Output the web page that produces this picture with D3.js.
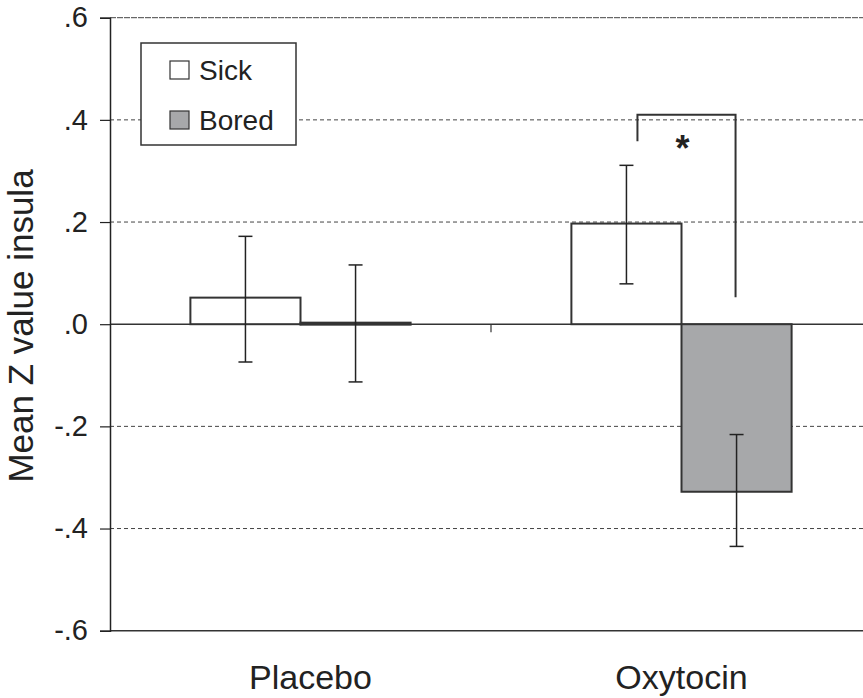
<!DOCTYPE html>
<html>
<head>
<meta charset="utf-8">
<script src="https://cdn.jsdelivr.net/npm/d3@7"></script>
<style>
  body { margin: 0; background: #fff; }
  text { font-family: "Liberation Sans", Arial, sans-serif; fill: #222; }
</style>
</head>
<body>
<script>
var groups = ["Placebo", "Oxytocin"],
    conditions = ["Sick", "Bored"];

// mean and error bar ends, one array per condition (order: Placebo, Oxytocin)
var sickMean = [0.052, 0.197],
    sickLow = [-0.074, 0.079],
    sickHigh = [0.172, 0.311],
    boredMean = [0.003, -0.328],
    boredLow = [-0.113, -0.435],
    boredHigh = [0.116, -0.216];

var yTicks = [-0.6, -0.4, -0.2, 0, 0.2, 0.4, 0.6],
    yTickLabels = ["-.6", "-.4", "-.2", ".0", ".2", ".4", ".6"];

// significance bracket: from Sick (oxytocin) to Bored (oxytocin)
var sigTop = 0.41, sigLeftEnd = 0.358, sigRightEnd = 0.053;

var colors = {Sick: "#ffffff", Bored: "#a7a8aa"};

var width = 863, height = 698;

var svg = d3.select("body").append("svg")
  .attr("width", width)
  .attr("height", height);

var y = d3.scaleLinear().domain([-0.6, 0.6]).range([630.7, 17.7]);

var x0 = d3.scaleBand().domain(groups).range([110, 872]).padding(0);
var bw = x0.bandwidth();
var x1 = d3.scaleBand().domain(conditions).range([bw * 0.211, bw * 0.789]).padding(0);

var data = [];
groups.forEach(function(g, i) {
  data.push({group: g, cond: "Sick", mean: sickMean[i], lo: sickLow[i], hi: sickHigh[i]});
  data.push({group: g, cond: "Bored", mean: boredMean[i], lo: boredLow[i], hi: boredHigh[i]});
});

// gridlines
svg.append("g")
  .selectAll("line")
  .data(yTicks.filter(function(d) { return d != 0 && d != -0.6; }))
  .enter()
  .append("line")
  .attr("x1", 110)
  .attr("x2", width)
  .attr("y1", function(d) { return y(d); })
  .attr("y2", function(d) { return y(d); })
  .attr("stroke", "#444")
  .attr("stroke-width", 1)
  .attr("stroke-dasharray", function(d) { return d == 0.6 ? "6,1" : "4,3"; });

// bottom line and zero line
svg.append("line")
  .attr("x1", 110).attr("x2", width)
  .attr("y1", y(-0.6)).attr("y2", y(-0.6))
  .attr("stroke", "#333").attr("stroke-width", 1.5);

svg.append("line")
  .attr("x1", 110).attr("x2", width)
  .attr("y1", y(0)).attr("y2", y(0))
  .attr("stroke", "#333").attr("stroke-width", 1.5);

// category separator tick
svg.append("line")
  .attr("x1", x0("Oxytocin")).attr("x2", x0("Oxytocin"))
  .attr("y1", y(0)).attr("y2", y(0) + 8)
  .attr("stroke", "#333").attr("stroke-width", 1.2);

// y axis
var yAxis = d3.axisLeft(y)
  .tickValues(yTicks)
  .tickSize(10)
  .tickPadding(12)
  .tickFormat(function(d, i) { return yTickLabels[i]; });

var ya = svg.append("g")
  .attr("transform", "translate(110,0)")
  .call(yAxis);
ya.select(".domain").attr("stroke", "#222").attr("stroke-width", 1.5);
ya.selectAll(".tick line").attr("stroke", "#222").attr("stroke-width", 1.2);
ya.selectAll(".tick text")
  .style("font-size", "29px")
  .style("font-family", "Liberation Sans, Arial, sans-serif")
  .attr("fill", "#222");

// bars
var bars = svg.append("g")
  .selectAll("g")
  .data(data)
  .enter()
  .append("g")
  .attr("transform", function(d) { return "translate(" + x0(d.group) + ",0)"; });

bars.append("rect")
  .attr("x", function(d) { return x1(d.cond); })
  .attr("width", x1.bandwidth())
  .attr("y", function(d) { return y(Math.max(0, d.mean)); })
  .attr("height", function(d) { return Math.max(2, Math.abs(y(d.mean) - y(0))); })
  .attr("fill", function(d) { return colors[d.cond]; })
  .attr("stroke", "#333")
  .attr("stroke-width", 2);

// error bars
bars.append("line")
  .attr("x1", function(d) { return x1(d.cond) + x1.bandwidth() / 2; })
  .attr("x2", function(d) { return x1(d.cond) + x1.bandwidth() / 2; })
  .attr("y1", function(d) { return y(d.lo); })
  .attr("y2", function(d) { return y(d.hi); })
  .attr("stroke", "#222").attr("stroke-width", 1.5);

["lo", "hi"].forEach(function(k) {
  bars.append("line")
    .attr("x1", function(d) { return x1(d.cond) + x1.bandwidth() / 2 - 7; })
    .attr("x2", function(d) { return x1(d.cond) + x1.bandwidth() / 2 + 7; })
    .attr("y1", function(d) { return y(d[k]); })
    .attr("y2", function(d) { return y(d[k]); })
    .attr("stroke", "#222").attr("stroke-width", 1.5);
});

// significance bracket
var bx1 = x0("Oxytocin") + x1("Sick") + x1.bandwidth() / 2 + 11,
    bx2 = x0("Oxytocin") + x1("Bored") + x1.bandwidth() / 2 - 1;

svg.append("path")
  .attr("d", "M" + bx1 + "," + y(sigLeftEnd) + "V" + y(sigTop) + "H" + bx2 + "V" + y(sigRightEnd))
  .attr("fill", "none")
  .attr("stroke", "#333")
  .attr("stroke-width", 2);

svg.append("text")
  .attr("x", (bx1 + bx2) / 2 - 4)
  .attr("y", 161)
  .attr("text-anchor", "middle")
  .style("font-size", "36px")
  .style("font-weight", "bold")
  .text("*");

// category labels
svg.append("g")
  .selectAll("text")
  .data(groups)
  .enter()
  .append("text")
  .attr("x", function(d) { return x0(d) + bw / 2 + (d == "Placebo" ? 10 : 0); })
  .attr("y", 689)
  .attr("text-anchor", "middle")
  .style("font-size", "34px")
  .text(function(d) { return d; });

// y label
svg.append("text")
  .attr("transform", "translate(33,326) rotate(-90)")
  .attr("text-anchor", "middle")
  .style("font-size", "35px")
  .text("Mean Z value insula");

// legend
var legend = svg.append("g");
legend.append("rect")
  .attr("x", 141).attr("y", 43)
  .attr("width", 155).attr("height", 102)
  .attr("fill", "#fff")
  .attr("stroke", "#333")
  .attr("stroke-width", 1.5);

var li = legend.selectAll(".item")
  .data(conditions)
  .enter()
  .append("g")
  .attr("transform", function(d, i) { return "translate(170," + (61 + i * 50) + ")"; });

li.append("rect")
  .attr("width", 19).attr("height", 18)
  .attr("fill", function(d) { return colors[d]; })
  .attr("stroke", "#333")
  .attr("stroke-width", 1.2);

li.append("text")
  .attr("x", 29)
  .attr("y", 19)
  .style("font-size", "28px")
  .text(function(d) { return d; });
</script>
</body>
</html>
